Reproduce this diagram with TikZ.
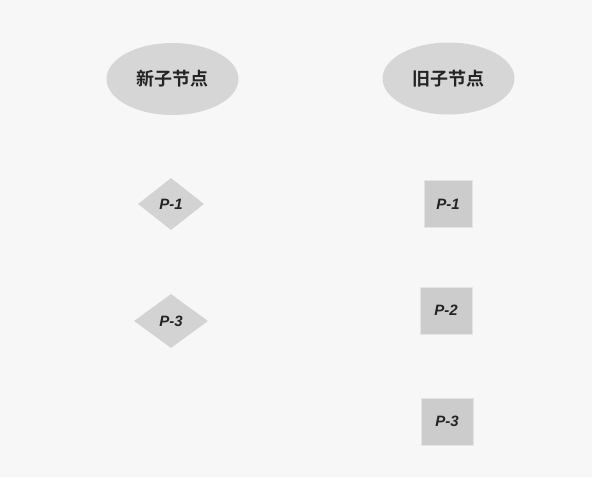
\documentclass[tikz,border=0pt]{standalone}
\usepackage{fontspec}
\newfontfamily\cjkbold[BoldFont=Noto Sans CJK SC Bold]{Noto Sans CJK SC}
\newfontfamily\tagfont{Liberation Sans}
\definecolor{pagebg}{RGB}{247, 247, 247}
\definecolor{headfill}{RGB}{214, 214, 214}
\definecolor{newfill}{RGB}{211, 211, 211}
\definecolor{oldfill}{RGB}{204, 204, 204}
\definecolor{oldedge}{RGB}{228, 228, 228}
\definecolor{inkgray}{RGB}{35, 35, 35}
\usetikzlibrary{shapes.geometric, positioning}

\begin{document}
\begin{tikzpicture}[
  x=1pt, y=-1pt,
  headnode/.style={ellipse, fill=headfill, minimum width=132pt, minimum height=72pt, inner sep=0pt, text=inkgray, font=\cjkbold\bfseries\fontsize{18}{21}\selectfont},
  newchild/.style={diamond, fill=newfill, inner sep=0pt, text=inkgray, font=\tagfont\bfseries\itshape\fontsize{15}{17}\selectfont},
  oldchild/.style={rectangle, fill=oldfill, draw=oldedge, line width=1pt, inner sep=0pt, minimum height=47pt, text=inkgray, font=\tagfont\bfseries\itshape\fontsize{15}{17}\selectfont}
]
  \fill[pagebg] (0,0) rectangle (592,477);
  \useasboundingbox (0,0) rectangle (592,477);

  % headers
  \node[headnode] (newhead) at (172.5, 79) {新子节点};
  \node[headnode] (oldhead) at (448.5, 78.5) {旧子节点};

  % new children
  \node[newchild, minimum width=66pt, minimum height=52pt] (newp1) at (171, 204) {P-1};
  \node[newchild, minimum width=74pt, minimum height=54pt] (newp3) at (171, 321) {P-3};

  % old children
  \node[oldchild, minimum width=48pt] (oldp1) at (448, 204) {P-1};
  \node[oldchild, minimum width=52pt] (oldp2) at (446, 310.5) {P-2};
  \node[oldchild, minimum width=52pt] (oldp3) at (447, 421.5) {P-3};
\end{tikzpicture}
\end{document}
